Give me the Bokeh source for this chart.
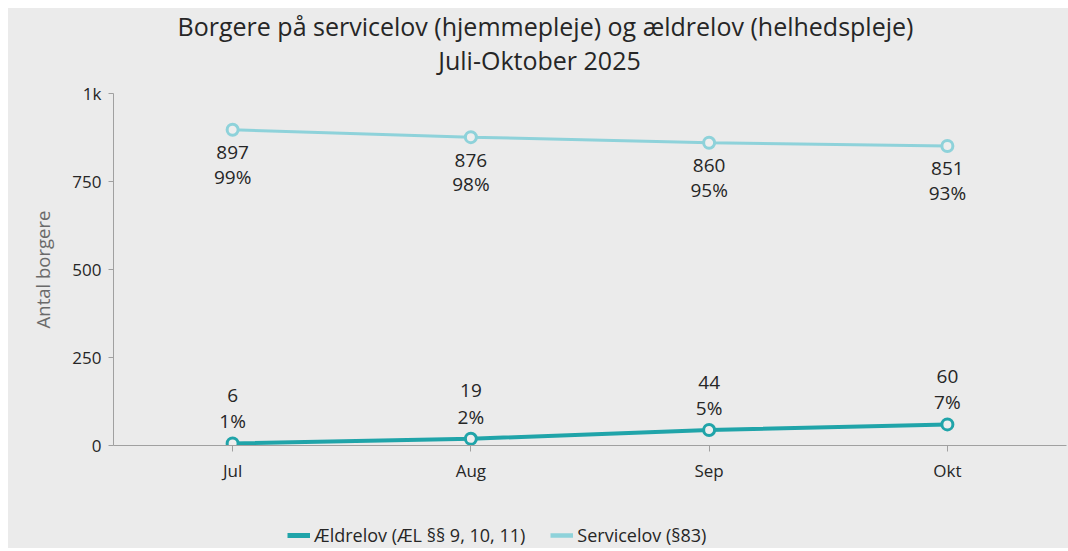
from bokeh.plotting import figure
from bokeh.layouts import column
from bokeh.models import (FactorRange, FixedTicker, Legend, LegendItem, Label, ColumnDataSource)
from bokeh.core.properties import value
from bokeh.embed import file_html
from bokeh.resources import INLINE

months = ["Jul", "Aug", "Sep", "Okt"]
aeldrelov = [6, 19, 44, 60]
aeldrelov_pct = ["1%", "2%", "5%", "7%"]
servicelov = [897, 876, 860, 851]
servicelov_pct = ["99%", "98%", "95%", "93%"]
y_ticks = [0, 250, 500, 750, 1000]
y_tick_labels = {1000: "1k"}
title_line1 = "Borgere på servicelov (hjemmepleje) og ældrelov (helhedspleje)"
title_line2 = "Juli-Oktober 2025"
series_names = ["Ældrelov (ÆL §§ 9, 10, 11)", "Servicelov (§83)"]

FONT = "Open Sans"
BG = "#ebebeb"
C_AEL = "#20a4a9"
C_SRV = "#8ed2da"
AX = "#a0a0a0"
TXT = "#262626"
W = 1060
BL, BR = 105, 2   # left / right border of the plotting frame


def bare(h):
    f = figure(width=W, height=h, x_range=(BL, W - BR), y_range=(0, h), output_backend="svg",
               toolbar_location=None, x_axis_location=None, y_axis_location=None,
               min_border_left=BL, min_border_right=BR, min_border_top=0, min_border_bottom=0)
    f.background_fill_color = BG
    f.border_fill_color = BG
    f.outline_line_color = None
    f.xgrid.grid_line_color = None
    f.ygrid.grid_line_color = None
    return f


# ---- title block
pt = bare(73)
for txt, xx, yy in [(title_line1, W / 2 + 7, 55.5), (title_line2, W / 2 + 1, 21.5)]:
    pt.add_layout(Label(x=xx, y=yy, text=txt, text_align="center", text_baseline="middle",
                        text_font=FONT, text_font_size="25px", text_color=TXT))

# ---- main chart
p = figure(width=W, height=429, x_range=FactorRange(*months, range_padding=0),
           y_range=(0, 1000), output_backend="svg", toolbar_location=None,
           min_border_left=BL, min_border_right=BR, min_border_top=12, min_border_bottom=65)
p.background_fill_color = BG
p.border_fill_color = BG
p.outline_line_color = None
p.xgrid.grid_line_color = None
p.ygrid.grid_line_color = None

p.yaxis.ticker = FixedTicker(ticks=y_ticks)
p.yaxis.major_label_overrides = y_tick_labels
p.yaxis.minor_tick_line_color = None
p.yaxis.major_tick_in = 0
p.yaxis.major_tick_out = 5
p.yaxis.axis_line_color = AX
p.yaxis.major_tick_line_color = AX
p.yaxis.major_label_text_font = FONT
p.yaxis.major_label_text_font_size = "17px"
p.yaxis.major_label_text_color = TXT
p.yaxis.major_label_standoff = 7
p.yaxis.axis_label = "Antal borgere"
p.yaxis.axis_label_text_font = FONT
p.yaxis.axis_label_text_font_size = "18.5px"
p.yaxis.axis_label_text_font_style = "normal"
p.yaxis.axis_label_text_color = "#6a6a6a"
p.yaxis.axis_label_standoff = 14

p.xaxis.axis_line_color = AX
p.xaxis.major_tick_line_color = AX
p.xaxis.major_tick_in = 0
p.xaxis.major_tick_out = 6
p.xaxis.major_label_text_font = FONT
p.xaxis.major_label_text_font_size = "17px"
p.xaxis.major_label_text_color = TXT
p.xaxis.major_label_standoff = 7

src_a = ColumnDataSource(dict(x=months, y=aeldrelov, v=[str(v) for v in aeldrelov], pct=aeldrelov_pct))
src_s = ColumnDataSource(dict(x=months, y=servicelov, v=[str(v) for v in servicelov], pct=servicelov_pct))

p.line("x", "y", source=src_s, line_color=C_SRV, line_width=3)
p.scatter("x", "y", source=src_s, size=11, fill_color="#eeeeee", line_color=C_SRV, line_width=3)
p.line("x", "y", source=src_a, line_color=C_AEL, line_width=4)
p.scatter("x", "y", source=src_a, size=11, fill_color="#eeeeee", line_color=C_AEL, line_width=3)

lab = dict(text_font=value(FONT), text_font_size="19px", text_color=TXT,
           text_align="center", text_baseline="middle")
p.text("x", "y", text="v", source=src_s, y_offset=23, **lab)
p.text("x", "y", text="pct", source=src_s, y_offset=47, **lab)
p.text("x", "y", text="v", source=src_a, y_offset=-48, **lab)
p.text("x", "y", text="pct", source=src_a, y_offset=-22, **lab)

# ---- legend block (legend-only renderers, no visible data)
pl = bare(38)
nan = float("nan")
r_a = pl.line(x=[nan], y=[nan], line_color=C_AEL, line_width=5)
r_s = pl.line(x=[nan], y=[nan], line_color=C_SRV, line_width=4.5)
legend = Legend(items=[LegendItem(label=series_names[0], renderers=[r_a]),
                       LegendItem(label=series_names[1], renderers=[r_s])],
                orientation="horizontal", location=(174, 1),
                background_fill_alpha=0, border_line_color=None,
                label_text_font=FONT, label_text_font_size="18px", label_text_color=TXT,
                glyph_width=23, glyph_height=20, label_height=20, padding=0, spacing=25,
                label_standoff=4, margin=0)
pl.add_layout(legend, "center")

layout = column(pt, p, pl, spacing=0, margin=(8, 0, 0, 8), styles={"background-color": BG})
open("out.html", "w").write(file_html(layout, INLINE))
